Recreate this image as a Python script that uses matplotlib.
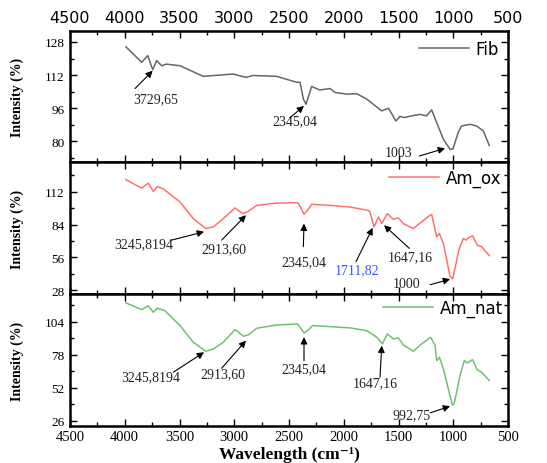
import numpy as np
import matplotlib
matplotlib.use("Agg")
import matplotlib.pyplot as plt
from matplotlib.ticker import MultipleLocator

# wavenumber / intensity
fib_x = [3989, 3845, 3790, 3745, 3708, 3663, 3620, 3495, 3283, 3009, 2893, 2830,
         2612, 2430, 2400, 2369, 2345, 2293, 2220, 2125, 2080, 1973, 1882, 1790,
         1653, 1592, 1523, 1487, 1442, 1381, 1305, 1244, 1197, 1151, 1090, 1029,
         1003, 954, 924, 847, 786, 725, 671]
fib_y = [125.6, 118.2, 121.4, 114.6, 119.0, 116.5, 117.3, 116.5, 111.4, 112.5, 110.9, 111.8,
         111.4, 108.5, 108.6, 100.5, 97.9, 106.5, 104.8, 105.5, 103.6, 102.8, 103.0, 100.4,
         94.7, 96.0, 89.8, 92.0, 91.5, 92.3, 93.0, 92.3, 95.2, 89.0, 81.0, 76.1,
         76.3, 84.4, 87.4, 88.2, 87.4, 85.0, 78.0]

ox_x = [3989, 3845, 3785, 3739, 3703, 3648, 3495, 3374, 3261, 3191, 3100, 2993,
        2923, 2872, 2795, 2612, 2421, 2400, 2363, 2320, 2293, 2125, 1943, 1776,
        1760, 1724, 1684, 1653, 1602, 1547, 1502, 1456, 1365, 1289, 1212, 1197,
        1151, 1127, 1090, 1029, 1005, 984, 945, 908, 884, 863, 823, 781, 741, 671]
ox_y = [122.4, 115.1, 119.4, 112.3, 116.5, 114.5, 103.3, 89.1, 80.6, 82.0, 89.1, 98.2,
        93.3, 95.3, 100.4, 102.4, 102.7, 99.9, 92.7, 97.6, 101.3, 100.4, 99.0, 96.1,
        94.8, 82.0, 90.5, 84.8, 93.3, 88.5, 89.7, 84.8, 80.6, 86.3, 91.9, 92.7,
        73.5, 76.4, 67.9, 39.6, 37.6, 46.7, 63.6, 72.1, 70.7, 72.7, 74.4, 66.4, 65.1, 57.4]

nat_x = [3989, 3845, 3785, 3739, 3703, 3633, 3495, 3374, 3261, 3191, 3100, 2993,
         2916, 2872, 2795, 2612, 2421, 2400, 2363, 2320, 2287, 2125, 1943, 1790,
         1699, 1647, 1602, 1547, 1502, 1456, 1365, 1289, 1206, 1166, 1151, 1127,
         1090, 1045, 1008, 993, 963, 939, 899, 872, 823, 781, 741, 671]
nat_y = [119.0, 113.7, 116.8, 111.6, 114.8, 112.9, 101.1, 88.0, 80.9, 82.7, 88.0, 97.9,
         92.7, 93.8, 99.0, 101.6, 102.4, 99.8, 95.3, 97.9, 101.1, 100.3, 99.3, 97.1,
         92.0, 86.7, 94.5, 90.6, 91.4, 85.9, 80.9, 86.7, 91.9, 85.3, 73.5, 76.2,
         67.0, 51.2, 38.6, 39.4, 51.2, 61.7, 73.5, 71.7, 74.3, 66.2, 64.4, 57.8]

labels = ["Fib", "Am_ox", "Am_nat"]
colors = ["#666666", "#ff7070", "#70c070"]
ylims = [(70, 133.3), (24.6, 137.5), (22, 126)]
yticks = [[80, 96, 112, 128], [28, 56, 84, 112], [26, 52, 78, 104]]

# annotations: (text, text xy, arrow tail, arrow head, colour)
notes = [
    [("3729,65", (3715, 100.8), (3906, 105.5), (3745, 114.1), "#222222"),
     ("2345,04", (2445, 89.8), (2491, 91.4), (2363, 97.1), "#222222"),
     ("1003", (1504, 74.8), (1310, 72.9), (1075, 76.6), "#222222")],
    [("3245,8194", (3824, 67.9), (3572, 70.7), (3276, 77.8), "#222222"),
     ("2913,60", (3094, 63.6), (3115, 70.7), (2893, 92.0), "#222222"),
     ("2345,04", (2363, 52.3), (2369, 65.1), (2363, 84.8), "#222222"),
     ("1711,82", (1882, 45.4), (1888, 52.3), (1736, 81.2), "#3355ff"),
     ("1647,16", (1395, 56.6), (1401, 63.6), (1632, 83.4), "#222222"),
     ("1000", (1426, 33.9), (1212, 32.5), (1029, 37.3), "#222222")],
    [("3245,8194", (3763, 61.2), (3556, 64.4), (3276, 80.1), "#222222"),
     ("2913,60", (3106, 63.0), (3115, 67.5), (2893, 89.3), "#222222"),
     ("2345,04", (2363, 67.0), (2363, 73.5), (2363, 92.0), "#222222"),
     ("1647,16", (1715, 55.9), (1669, 60.4), (1653, 85.3), "#222222"),
     ("992,75", (1380, 30.7), (1212, 32.3), (1029, 37.6), "#222222")],
]

serif = "Liberation Serif"
sans = "DejaVu Sans"

fig = plt.figure(figsize=(5.47, 4.64), dpi=100)
left, right = 70 / 547, 508 / 547
edges = [32, 163, 295, 427]
axes = []
for i in range(3):
    top_px, bot_px = edges[i], edges[i + 1]
    ax = fig.add_axes([left, 1 - bot_px / 464, right - left, (bot_px - top_px) / 464])
    axes.append(ax)

data = [(fib_x, fib_y), (ox_x, ox_y), (nat_x, nat_y)]
leg_pad = [0.15, 0.0, -0.1]
for i, ax in enumerate(axes):
    x, y = data[i]
    ax.plot(x, y, color=colors[i], lw=1.1, label=labels[i])
    ax.set_xlim(4500, 500)
    ax.set_ylim(*ylims[i])
    ax.set_yticks(yticks[i])
    ax.yaxis.set_minor_locator(MultipleLocator((yticks[i][1] - yticks[i][0]) / 2))
    ax.xaxis.set_major_locator(MultipleLocator(500))
    ax.xaxis.set_minor_locator(MultipleLocator(250))
    ax.tick_params(which="both", direction="in", top=True, right=True, width=1.0)
    ax.tick_params(which="major", length=5)
    ax.tick_params(which="minor", length=3)
    ax.tick_params(axis="y", labelsize=9.5, pad=4)
    ax.tick_params(axis="x", labelsize=10.5, labelbottom=(i == 2), labeltop=(i == 0), pad=3)
    for lab in ax.get_yticklabels() + ax.get_xticklabels():
        lab.set_fontfamily(serif)
    for s in ax.spines.values():
        s.set_linewidth(1.8)
    ax.set_ylabel("Intensity (%)", fontfamily=serif, fontweight="bold", fontsize=10)
    ax.yaxis.set_label_coords(-0.105, 0.5)
    ax.legend(loc="upper right", frameon=False, handlelength=3.0, handletextpad=0.4,
              prop={"family": sans, "size": 12}, borderaxespad=leg_pad[i])
    for t, txy, tail, head, c in notes[i]:
        ax.text(txy[0], txy[1], t, fontfamily=serif, fontsize=10, color=c,
                ha="center", va="center")
        ax.annotate("", xy=head, xytext=tail,
                    arrowprops=dict(arrowstyle="-|>", color="black", lw=0.8,
                                    mutation_scale=10, shrinkA=0, shrinkB=0))

# top labels in sans
for lab in axes[0].get_xticklabels():
    lab.set_fontfamily(sans)
    lab.set_fontsize(11.5)
axes[0].tick_params(axis="x", pad=4)

axes[2].set_xlabel("Wavelength (cm\u207b\u00b9)", family=[serif, "DejaVu Serif"],
                   fontweight="bold", fontsize=12.5)
axes[2].xaxis.set_label_coords(0.5, -0.215)
axes[2].xaxis.label.set_va("center")

fig.savefig("out.png", dpi=100)
